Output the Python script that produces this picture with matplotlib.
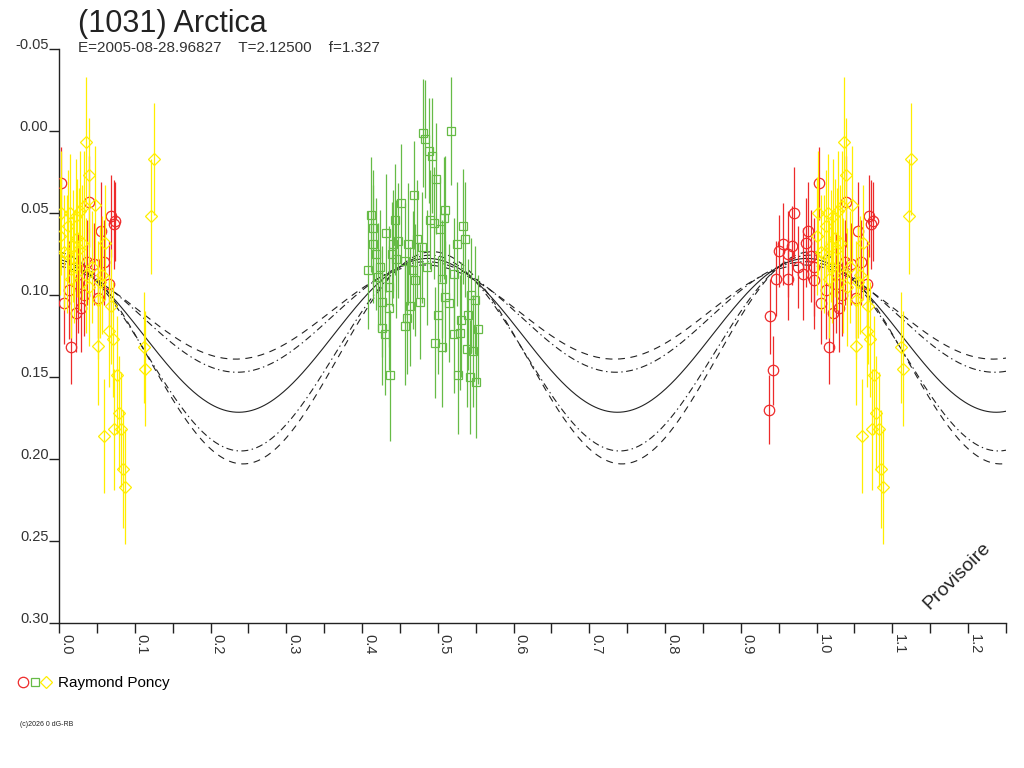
import numpy as np
import matplotlib
matplotlib.use('Agg')
import matplotlib.pyplot as plt
from matplotlib.lines import Line2D
from matplotlib.legend_handler import HandlerTuple
from matplotlib.ticker import FixedLocator, FixedFormatter

plt.rcParams['font.family'] = ['Liberation Sans', 'DejaVu Sans']
plt.rcParams['lines.scale_dashes'] = False

# ---- data (phase in [0,1), reduced magnitude, error) ----
red_phase = [0.003, 0.970, 0.989, 0.956, 0.967, 0.951, 0.962, 0.986, 0.947, 0.962,
             0.982, 0.996, 0.939, 0.943, 0.937, 0.016, 0.013, 0.006, 0.022, 0.029,
             0.033, 0.025, 0.039, 0.037, 0.046, 0.055, 0.059, 0.052, 0.066, 0.069,
             0.074, 0.072, 0.997, 0.975, 0.992]
red_mag = [0.032, 0.050, 0.061, 0.069, 0.070, 0.073, 0.075, 0.068, 0.090, 0.090,
           0.087, 0.091, 0.113, 0.146, 0.170, 0.132, 0.097, 0.105, 0.111, 0.108,
           0.100, 0.093, 0.043, 0.080, 0.081, 0.061, 0.080, 0.102, 0.093, 0.052,
           0.055, 0.057, 0.083, 0.083, 0.076]
red_err = [0.022, 0.028, 0.030, 0.025, 0.024, 0.022, 0.026, 0.027, 0.023, 0.025,
           0.028, 0.030, 0.023, 0.021, 0.021, 0.022, 0.030, 0.025, 0.024, 0.027,
           0.025, 0.030, 0.028, 0.026, 0.025, 0.030, 0.026, 0.024, 0.026, 0.025,
           0.024, 0.027, 0.030, 0.025, 0.028]

green_phase = [0.481, 0.518, 0.483, 0.488, 0.493, 0.498, 0.468, 0.451, 0.412, 0.509,
               0.490, 0.508, 0.495, 0.533, 0.503, 0.432, 0.444, 0.441, 0.448, 0.461,
               0.472, 0.479, 0.525, 0.536, 0.415, 0.419, 0.439, 0.457, 0.408, 0.424,
               0.421, 0.467, 0.435, 0.522, 0.463, 0.477, 0.509, 0.515, 0.544, 0.549,
               0.435, 0.500, 0.459, 0.457, 0.426, 0.430, 0.531, 0.540, 0.553, 0.522,
               0.529, 0.496, 0.506, 0.538, 0.547, 0.437, 0.527, 0.542, 0.551, 0.414,
               0.445, 0.470, 0.486, 0.505, 0.427]
green_mag = [0.001, 0.000, 0.005, 0.012, 0.015, 0.029, 0.039, 0.044, 0.051, 0.048,
             0.054, 0.053, 0.056, 0.058, 0.060, 0.062, 0.054, 0.069, 0.067, 0.069,
             0.066, 0.071, 0.069, 0.066, 0.069, 0.075, 0.075, 0.079, 0.085, 0.083,
             0.089, 0.085, 0.095, 0.087, 0.107, 0.104, 0.101, 0.105, 0.100, 0.103,
             0.108, 0.112, 0.114, 0.119, 0.120, 0.124, 0.115, 0.112, 0.121, 0.124,
             0.123, 0.129, 0.132, 0.133, 0.134, 0.149, 0.149, 0.150, 0.153, 0.059,
             0.078, 0.091, 0.083, 0.090, 0.104]
green_err = [0.033, 0.033, 0.036, 0.032, 0.035, 0.034, 0.033, 0.036, 0.035, 0.033,
             0.030, 0.037, 0.034, 0.035, 0.032, 0.036, 0.034, 0.033, 0.035, 0.037,
             0.036, 0.034, 0.038, 0.035, 0.036, 0.034, 0.032, 0.035, 0.036, 0.035,
             0.033, 0.036, 0.037, 0.034, 0.036, 0.035, 0.034, 0.036, 0.035, 0.033,
             0.038, 0.036, 0.034, 0.036, 0.035, 0.037, 0.035, 0.034, 0.033, 0.036,
             0.035, 0.034, 0.036, 0.035, 0.034, 0.040, 0.036, 0.035, 0.034, 0.035,
             0.036, 0.034, 0.035, 0.036, 0.034]

yellow_phase = [0.036, 0.039, 0.047, 0.125, 0.122, 0.002, 0.015, 0.022, 0.028, 0.033,
                0.001, 0.006, 0.012, 0.024, 0.031, 0.027, 0.019, 0.010, 0.061, 0.057,
                0.054, 0.068, 0.052, 0.066, 0.071, 0.052, 0.112, 0.114, 0.076, 0.079,
                0.073, 0.082, 0.060, 0.085, 0.087, 0.044, 0.040, 0.035, 0.020, 0.016]
yellow_mag = [0.007, 0.027, 0.045, 0.017, 0.052, 0.050, 0.050, 0.052, 0.049, 0.046,
              0.064, 0.074, 0.058, 0.065, 0.068, 0.072, 0.070, 0.075, 0.068, 0.088,
              0.092, 0.107, 0.103, 0.122, 0.127, 0.131, 0.132, 0.145, 0.149, 0.172,
              0.182, 0.182, 0.186, 0.206, 0.217, 0.083, 0.095, 0.088, 0.083, 0.090]
yellow_err = [0.040, 0.035, 0.036, 0.034, 0.035, 0.038, 0.036, 0.035, 0.037, 0.034,
              0.036, 0.035, 0.034, 0.036, 0.035, 0.037, 0.034, 0.036, 0.035, 0.036,
              0.034, 0.035, 0.036, 0.034, 0.035, 0.036, 0.034, 0.035, 0.036, 0.035,
              0.037, 0.035, 0.035, 0.036, 0.035, 0.034, 0.036, 0.035, 0.034, 0.036]

# model curves: mean, half amplitude, phase of brightest point (2nd harmonic fit)
model_mean = [0.1104, 0.1134, 0.1246, 0.1354, 0.1383]
model_amp = [0.0287, 0.0337, 0.0469, 0.0597, 0.0647]
model_peak = [0.483, 0.485, 0.487, 0.490, 0.493]
model_style = ['dashed', 'dashdot', 'solid', 'dashdot', 'dashed']

title = '(1031) Arctica'
subtitle = 'E=2005-08-28.96827    T=2.12500    f=1.327'
observer = 'Raymond Poncy'

x_major = [0.0, 0.1, 0.2, 0.3, 0.4, 0.5, 0.6, 0.7, 0.8, 0.9, 1.0, 1.1, 1.2]
x_minor = [0.05, 0.15, 0.25, 0.35, 0.45, 0.55, 0.65, 0.75, 0.85, 0.95, 1.05, 1.15, 1.25]
y_ticks = [-0.05, 0.00, 0.05, 0.10, 0.15, 0.20, 0.25, 0.30]

RED = '#ee2a2a'
GRN = '#66bb46'
YEL = '#ffee00'
INK = '#222222'
XMAX = 1.25

fig = plt.figure(figsize=(10.24, 7.68), dpi=100)
ax = fig.add_axes([59 / 1024, 1 - 623 / 768, 947 / 1024, 574 / 768])


def wrap(ph, mg, er):
    # repeat the points one cycle later where the axis still shows them
    ph, mg, er = np.asarray(ph), np.asarray(mg), np.asarray(er)
    keep = ph + 1.0 <= XMAX
    return (np.concatenate([ph, ph[keep] + 1.0]),
            np.concatenate([mg, mg[keep]]),
            np.concatenate([er, er[keep]]))


# model curves
phase = np.linspace(0, XMAX, 600)
dash_map = {'dashed': (0, (5, 4)), 'dashdot': (0, (5, 2.5, 1, 2.5)), 'solid': '-'}
for m, a, p0, st in zip(model_mean, model_amp, model_peak, model_style):
    ax.plot(phase, m - a * np.cos(4 * np.pi * (phase - p0)), color=INK,
            lw=0.8, linestyle=dash_map[st], zorder=2)

series = [(red_phase, red_mag, red_err, RED, 'o', 7.5),
          (green_phase, green_mag, green_err, GRN, 's', 6.0),
          (yellow_phase, yellow_mag, yellow_err, YEL, 'D', 6.0)]
handles = []
for i, (ph, mg, er, col, mk, ms) in enumerate(series):
    x, y, e = wrap(ph, mg, er)
    ax.errorbar(x, y, yerr=e, fmt='none', ecolor=col, elinewidth=0.9,
                capsize=0, zorder=3 + i)
    ax.plot(x, y, linestyle='none', marker=mk, ms=ms, mfc='none', mec=col,
            mew=0.9, zorder=3 + i)
    handles.append(Line2D([], [], linestyle='none', marker=mk, ms=ms,
                          mfc='none', mec=col, mew=0.9))

ax.set_xlim(0, XMAX)
ax.set_ylim(0.30, -0.05)

for side in ['top', 'right']:
    ax.spines[side].set_visible(False)
for side in ['left', 'bottom']:
    ax.spines[side].set_color(INK)
    ax.spines[side].set_linewidth(1.0)

ax.xaxis.set_major_locator(FixedLocator(x_major))
ax.xaxis.set_major_formatter(FixedFormatter(['%.1f' % v for v in x_major]))
ax.xaxis.set_minor_locator(FixedLocator(x_minor))
ax.tick_params(axis='x', which='both', direction='out', length=7, width=1,
               color=INK, pad=1)
ax.tick_params(axis='x', which='major', labelsize=10.5, labelcolor='#333333')
for lab in ax.get_xticklabels():
    lab.set_rotation(-90)
    lab.set_ha('left')
    lab.set_va('top')

ax.yaxis.set_major_locator(FixedLocator(y_ticks))
ax.yaxis.set_major_formatter(FixedFormatter(['%.2f' % v for v in y_ticks]))
ax.tick_params(axis='y', direction='out', length=7.5, width=1, color=INK,
               pad=0, labelsize=10.5, labelcolor='#333333')
for lab in ax.get_yticklabels():
    lab.set_va('baseline')

fig.text(78 / 1024, 1 - 9 / 768, title, fontsize=22, color=INK, va='top')
fig.text(78 / 1024, 1 - 41 / 768, subtitle, fontsize=11, color='#333333', va='top')

fig.legend([tuple(handles)], [observer], loc='center left',
           bbox_to_anchor=(18 / 1024, 1 - 683 / 768), frameon=False,
           handler_map={tuple: HandlerTuple(ndivide=None, pad=0.05)},
           handlelength=2.2, handletextpad=0.45, borderpad=0, borderaxespad=0,
           fontsize=11)

fig.text(20 / 1024, 1 - 725 / 768, '(c)2026 0 dG-RB', fontsize=5, color=INK,
         va='center')
fig.text(957 / 1024, 1 - 576 / 768, 'Provisoire', fontsize=14, color=INK,
         rotation=45, ha='center', va='center')

fig.savefig('out.png', dpi=100, facecolor='white')
